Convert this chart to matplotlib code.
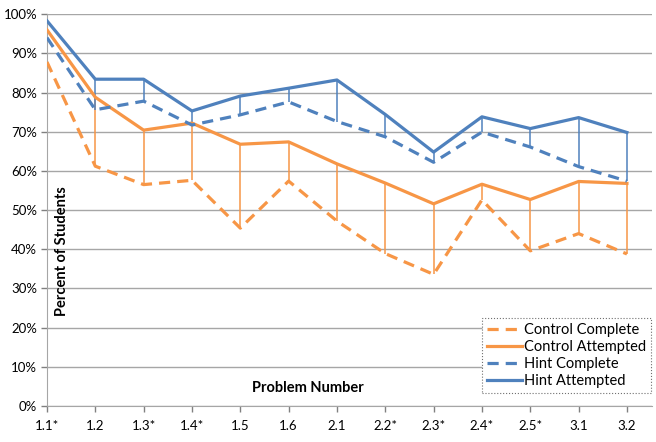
import numpy as np
import matplotlib
matplotlib.use("Agg")
import matplotlib.pyplot as plt
from matplotlib.ticker import PercentFormatter

# datos (porcentaje de estudiantes)
problemas = ["1.1*", "1.2", "1.3*", "1.4*", "1.5", "1.6", "2.1",
             "2.2*", "2.3*", "2.4*", "2.5*", "3.1", "3.2"]
control_complete = [87.8, 61.2, 56.5, 57.6, 45.4, 57.4, 47.2, 38.9, 33.6, 52.6, 39.6, 44.0, 38.8]
control_attempted = [96.0, 78.8, 70.4, 72.2, 66.8, 67.4, 61.8, 56.9, 51.6, 56.6, 52.7, 57.3, 56.8]
hint_complete = [94.0, 75.6, 77.8, 71.7, 74.3, 77.6, 72.6, 68.7, 62.2, 69.9, 66.1, 61.1, 57.4]
hint_attempted = [98.3, 83.4, 83.4, 75.3, 79.1, 81.1, 83.2, 74.4, 64.8, 73.8, 70.8, 73.6, 69.8]

naranja = "#F79646"
azul = "#4F81BD"

plt.rcParams["font.family"] = ["Lato", "DejaVu Sans"]

fig = plt.figure(figsize=(6.56, 4.42), dpi=100)
ax = fig.add_axes([0.0716, 0.0814, 0.9224, 0.8866])

x = np.arange(len(problemas))

# lineas verticales entre completado e intentado
ax.vlines(x, control_complete, control_attempted, color=naranja, lw=1.1, zorder=2)
ax.vlines(x, hint_complete, hint_attempted, color=azul, lw=1.1, zorder=2)

ax.plot(x, control_complete, color=naranja, lw=2.3, dashes=(3.5, 2.2), label="Control Complete", zorder=3)
ax.plot(x, control_attempted, color=naranja, lw=2.3, label="Control Attempted", zorder=3)
ax.plot(x, hint_complete, color=azul, lw=2.3, dashes=(3.5, 2.2), label="Hint Complete", zorder=3)
ax.plot(x, hint_attempted, color=azul, lw=2.3, label="Hint Attempted", zorder=3)

ax.set_xlim(0, 12.52)
ax.set_ylim(0, 100)
ax.set_xticks(x)
ax.set_xticklabels(problemas)
ax.set_yticks(np.arange(0, 101, 10))
ax.yaxis.set_major_formatter(PercentFormatter(decimals=0))
ax.tick_params(axis="both", labelsize=9.5, colors="#808080", labelcolor="black", length=4, width=1)
ax.tick_params(axis="x", pad=6)
ax.tick_params(axis="y", pad=3)

ax.grid(axis="y", color="#A6A6A6", lw=1, zorder=0)
ax.set_axisbelow(True)
for lado in ["top", "right"]:
    ax.spines[lado].set_visible(False)
ax.spines["left"].set_color("#A6A6A6")
ax.spines["bottom"].set_color("#A6A6A6")

# titulos de ejes dentro del area del grafico
ax.text(0.31, 39.5, "Percent of Students", rotation=90, fontsize=10.5, fontweight="bold",
        ha="center", va="center")
ax.text(5.4, 4.6, "Problem Number", fontsize=10.5, fontweight="bold", ha="center", va="center")

leg = ax.legend(loc="lower right", bbox_to_anchor=(651 / 656, 1 - 393 / 442),
                bbox_transform=fig.transFigure, fontsize=10.5, frameon=True, fancybox=False,
                handlelength=2.4, handletextpad=0.1, labelspacing=0.2, borderpad=0.35,
                framealpha=1, borderaxespad=0)
leg.get_frame().set_edgecolor("#707070")
leg.get_frame().set_linestyle(":")
leg.get_frame().set_linewidth(0.8)

fig.savefig("out.png", dpi=100)
